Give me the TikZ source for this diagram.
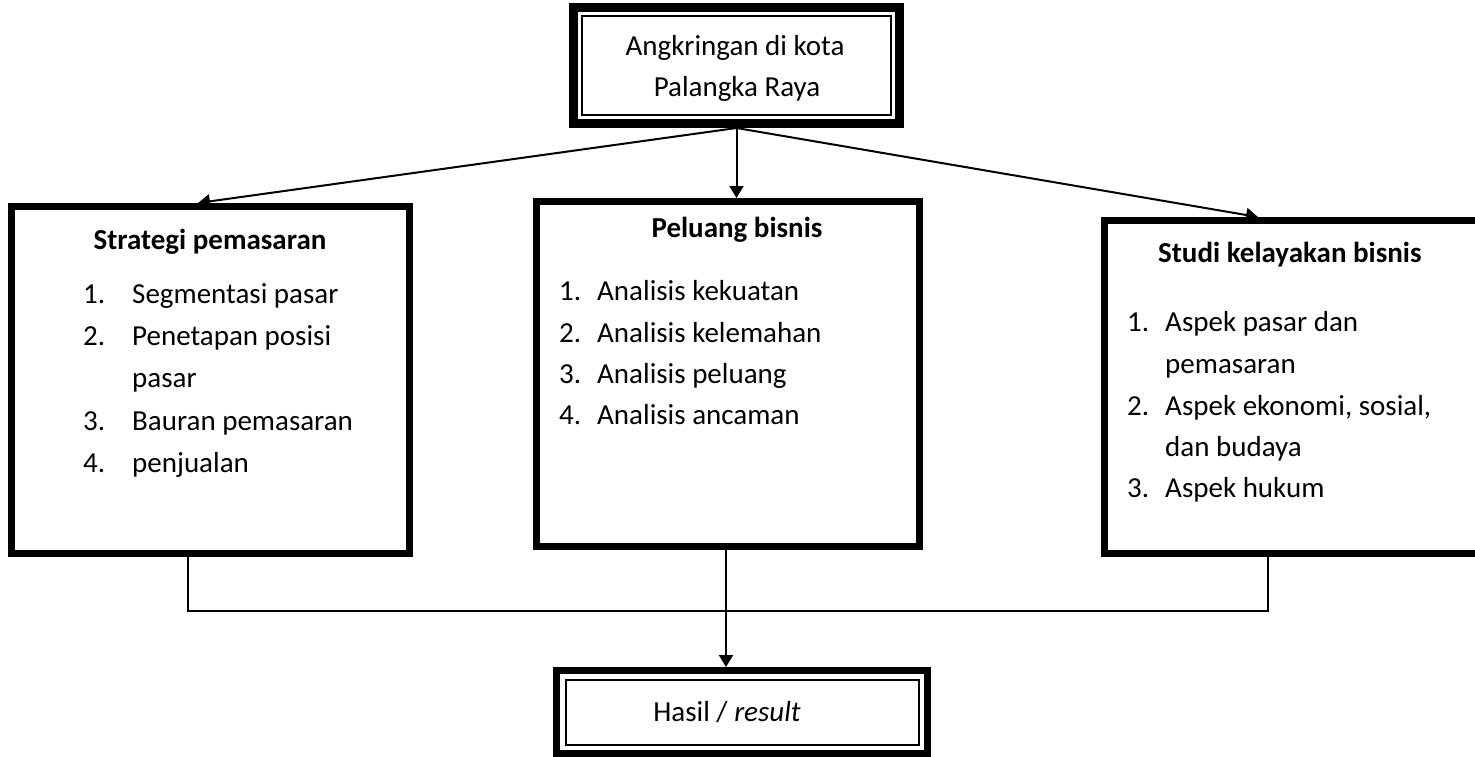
\documentclass[tikz,border=0pt]{standalone}
\usepackage{fontspec}
\setmainfont{Carlito}
\usetikzlibrary{arrows.meta}
\newcommand{\dfont}{\fontsize{29pt}{35pt}\selectfont}
\begin{document}
\begin{tikzpicture}[x=1pt,y=-1pt,
  box/.style={draw, line width=7pt, rectangle, inner sep=0pt},
  dbox/.style={draw, line width=9pt, rectangle, inner sep=0pt},
  thinframe/.style={line width=2pt},
  conn/.style={line width=2pt},
  arr/.style={conn, -{Triangle[length=12pt,width=14pt]}},
  txt/.style={inner sep=0pt, font=\dfont, anchor=base},
  lt/.style={inner sep=0pt, font=\dfont, anchor=base west},
  bt/.style={inner sep=0pt, font=\dfont\bfseries, anchor=base}]
\fill[white] (0,0) rectangle (1475,756);
\useasboundingbox (0,0) rectangle (1475,756);

% top box
\node[dbox, minimum width=326pt, minimum height=116pt] (top) at (736.5,65.5) {};
\draw[thinframe] ([xshift=13pt,yshift=-13pt]top.north west) rectangle ([xshift=-13pt,yshift=13pt]top.south east);
\node[txt] (t1) at (735,55) {Angkringan di kota};
\node[txt] (t2) at (737,96) {Palangka Raya};

% three boxes
\node[box, minimum width=398pt, minimum height=347pt] (sp) at (210.5,380) {};
\node[box, minimum width=383pt, minimum height=345pt] (pb) at (728,374) {};
\node[box, minimum width=381pt, minimum height=333pt] (rb) at (1295,387) {};

% result box
\node[box, minimum width=371pt, minimum height=83pt] (hasil) at (742,712) {};
\draw[thinframe] ([xshift=12.5pt,yshift=-12.5pt]hasil.north west) rectangle ([xshift=-12.5pt,yshift=12.5pt]hasil.south east);
\node[txt] (h1) at (727,721) {Hasil / \textit{result}};

% arrows from top
\draw[arr] (top.south) -- ([xshift=-12.5pt]sp.north);
\draw[arr] (top.south) -- (top.south |- pb.north);
\draw[arr] (top.south) -- ([xshift=-37pt]rb.north);

% bottom connectors
\coordinate (jl) at (188,611);
\coordinate (jr) at (1268,611);
\coordinate (jm) at (726,611);
\draw[conn] (sp.south -| jl) -- (jl) -- (jr) -- (rb.south -| jr);
\draw[arr] (pb.south -| jm) -- (jm |- hasil.north);

% left box text
\node[bt] (spt) at (210,249) {Strategi pemasaran};
\node[lt] (sn1) at (83,303) {1.};
\node[lt] (sl1) at (132,303) {Segmentasi pasar};
\node[lt] (sn2) at (83,345) {2.};
\node[lt] (sl2) at (132,345) {Penetapan posisi};
\node[lt] (sl2b) at (132,387) {pasar};
\node[lt] (sn3) at (83,430) {3.};
\node[lt] (sl3) at (132,430) {Bauran pemasaran};
\node[lt] (sn4) at (83,472) {4.};
\node[lt] (sl4) at (132,472) {penjualan};

% middle box text
\node[bt] (pbt) at (737,237) {Peluang bisnis};
\node[lt] (pn1) at (559,300) {1.};
\node[lt] (pl1) at (597,300) {Analisis kekuatan};
\node[lt] (pn2) at (559,342) {2.};
\node[lt] (pl2) at (597,342) {Analisis kelemahan};
\node[lt] (pn3) at (559,383) {3.};
\node[lt] (pl3) at (597,383) {Analisis peluang};
\node[lt] (pn4) at (559,424) {4.};
\node[lt] (pl4) at (597,424) {Analisis ancaman};

% right box text
\node[bt, anchor=base west] (rbt) at (1158,262) {Studi kelayakan bisnis};
\node[lt] (rn1) at (1127,331) {1.};
\node[lt] (rl1) at (1165,331) {Aspek pasar dan};
\node[lt] (rl1b) at (1165,373) {pemasaran};
\node[lt] (rn2) at (1127,415) {2.};
\node[lt] (rl2) at (1165,415) {Aspek ekonomi, sosial,};
\node[lt] (rl2b) at (1165,456) {dan budaya};
\node[lt] (rn3) at (1127,497) {3.};
\node[lt] (rl3) at (1165,497) {Aspek hukum};
\end{tikzpicture}
\end{document}
